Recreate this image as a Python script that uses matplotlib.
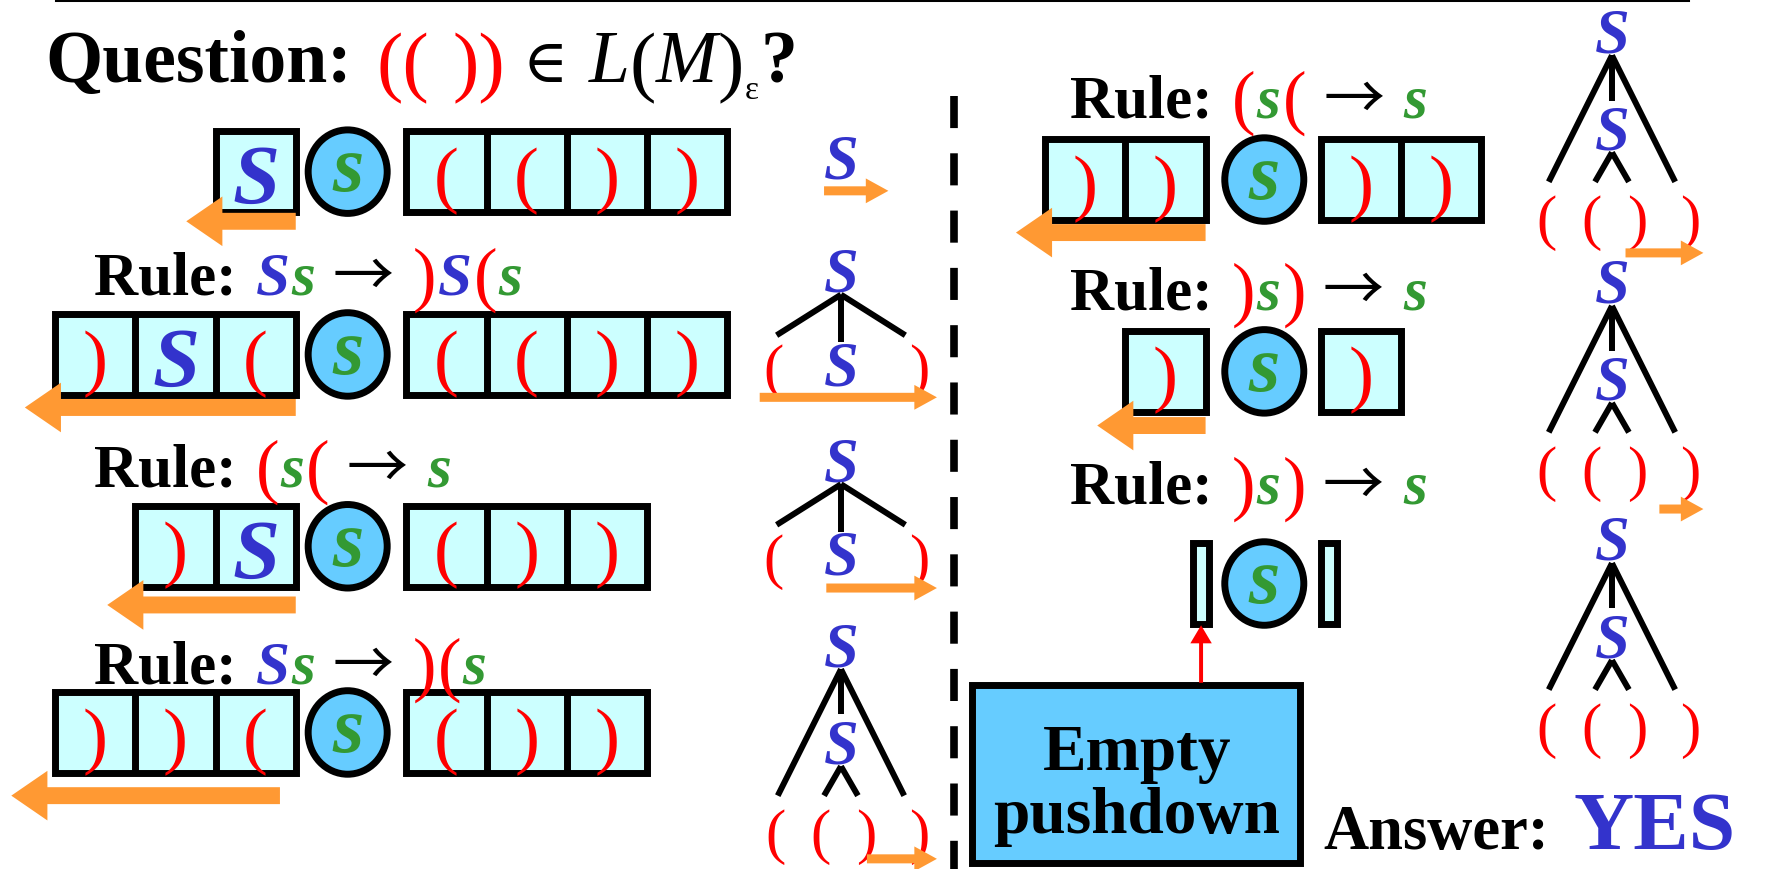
import matplotlib
matplotlib.use('Agg')
import matplotlib.pyplot as plt
import matplotlib.patches as mpatches

# drawing units = reference as shown (1568 x 771), figure saved at 1770 x 870
W, H = 1568, 771
fig = plt.figure(figsize=(17.7, 8.7), dpi=100)
ax = fig.add_axes([0, 0, 1, 1])
ax.set_xlim(0, W)
ax.set_ylim(H, 0)
ax.axis('off')

BLUE = '#3333CC'
GREEN = '#339933'
RED = '#FF0000'
ORANGE = '#FF9933'
CELL = '#CCFFFF'
STATE = '#66CCFF'
SERIF = ['Liberation Serif', 'DejaVu Serif']
ARROWFONT = ['Noto Sans CJK JP', 'DejaVu Sans']

# configurations of the pushdown automaton
pushdowns_left = [['S'], [')', 'S', '('], [')', 'S'], [')', ')', '(']]
inputs_left = [['(', '(', ')', ')'], ['(', '(', ')', ')'], ['(', ')', ')'], ['(', ')', ')']]
rules_left = [None, 'Ss→)S(s', '(s(→s', 'Ss→)(s']
trees_left = ['leaf', 'flat', 'flat', 'deep']

pushdowns_right = [[')', ')'], [')'], []]
inputs_right = [[')', ')'], [')'], []]
rules_right = ['(s(→s', ')s)→s', ')s)→s']
trees_right = ['deep', 'deep', 'deep']

question = '(( ))'
answer = 'YES'

renderer = fig.canvas.get_renderer()
px2u = W / fig.bbox.width
PT = 0.8127  # points per drawing unit


def sym_kw(ch, size):
    if ch == 'S':
        return dict(color=BLUE, fontweight='bold', fontstyle='italic', fontsize=size)
    if ch == 's':
        return dict(color=GREEN, fontweight='bold', fontstyle='italic', fontsize=size)
    if ch in '()':
        return dict(color=RED, fontweight='normal', fontsize=size)
    return dict(color='black', fontweight='normal', fontsize=size)


def write(x, y, pieces):
    # pieces: (text, kwargs, gap after[, baseline shift])
    for p in pieces:
        s, kw, gap = p[:3]
        dy = p[3] if len(p) > 3 else 0
        kw = dict(kw)
        fam = kw.pop('family', SERIF)
        t = ax.text(x, y + dy, s, va='baseline', ha='left', family=fam, **kw)
        x += t.get_window_extent(renderer).width * px2u + gap
    return x


def glyph(x, yc, ch, size):
    em = size / PT
    off = {'S': 0.33, 's': 0.23, '(': 0.26, ')': 0.26}[ch]
    ax.text(x, yc + off * em, ch, ha='center', va='baseline', family=SERIF,
            **sym_kw(ch, size))


def rule(x, y, text, size=44):
    pieces = [('Rule:', dict(fontweight='bold', fontsize=size), 17)]
    for ch in text:
        if ch == '→':
            pieces[-1] = (*pieces[-1][:2], 15, *pieces[-1][3:])
            pieces.append((ch, dict(fontsize=size, family=ARROWFONT), 17, 1))
        elif ch in 'Ss':
            pieces.append((ch, sym_kw(ch, size), 2))
        else:
            pieces.append((ch, sym_kw(ch, size + 7), 1, 3))
    write(x, y, pieces)


CW, CH = 71, 72
LW = 5


def cells(x0, yc, items):
    n = len(items)
    ax.add_patch(mpatches.Rectangle((x0, yc - CH / 2), CW * n, CH, fc=CELL,
                                    ec='black', lw=LW, zorder=2))
    for i in range(1, n):
        ax.plot([x0 + i * CW] * 2, [yc - CH / 2, yc + CH / 2], color='black',
                lw=LW, zorder=2, solid_capstyle='butt')
    for i, ch in enumerate(items):
        glyph(x0 + (i + 0.5) * CW, yc + (3 if ch == 'S' else 6), ch,
              61 if ch == 'S' else 54)


def state(x, yc):
    ax.add_patch(mpatches.Ellipse((x, yc), 70, 74, fc=STATE, ec='black',
                                  lw=LW, zorder=2))
    glyph(x, yc, 's', 58)


def arrow(x0, x1, y, w, hw, hl, color=ORANGE):
    ax.add_patch(mpatches.FancyArrow(x0, y, x1 - x0, 0, width=w, head_width=hw,
                                     head_length=hl, length_includes_head=True,
                                     fc=color, ec='none', zorder=4))


def tree_line(p, q):
    ax.plot([p[0], q[0]], [p[1], q[1]], color='black', lw=4.3,
            solid_capstyle='butt', zorder=3)


def tree(kind, x, y):
    glyph(x, y, 'S', 45)
    if kind == 'leaf':
        return
    a = y + 22
    if kind == 'flat':
        tree_line((x, a), (x - 57, y + 58))
        tree_line((x, a), (x + 57, y + 58))
        tree_line((x, a), (x, y + 64))
        glyph(x, y + 83, 'S', 45)
        glyph(x - 60, y + 89, '(', 44)
        glyph(x + 69, y + 89, ')', 44)
        return
    tree_line((x, a), (x - 56, y + 134))
    tree_line((x, a), (x + 56, y + 134))
    tree_line((x, a), (x, y + 62))
    glyph(x, y + 86, 'S', 45)
    tree_line((x, y + 108), (x - 15, y + 134))
    tree_line((x, y + 108), (x + 15, y + 134))
    for dx, ch in zip([-58, -18, 22, 69], '(())'):
        glyph(x + dx, y + 169, ch, 44)


# top rule line
ax.plot([50, 1495], [1.3, 1.3], color='black', lw=2.2)

# title
x = write(40, 73, [('Question:', dict(fontweight='bold', fontsize=53), 22),
                   (question[:2], dict(color=RED, fontsize=57), 20, 4),
                   (question[3:], dict(color=RED, fontsize=57), 16, 4),
                   ('∈', dict(fontsize=44), 18),
                   ('L', dict(fontstyle='italic', fontsize=53), 0),
                   ('(', dict(fontsize=57), 0, 4),
                   ('M', dict(fontstyle='italic', fontsize=53), 0),
                   (')', dict(fontsize=57), 1, 4)])
x = write(x, 88, [('ε', dict(fontsize=24), 2)])
write(x, 73, [('?', dict(fontsize=53, fontweight='bold'), 0)])

# left column
left_y = [153, 315, 485, 650]
left_rule_y = [None, 261, 431, 606]
left_arrow = [(262, 165, 197), (262, 22, 362), (262, 95, 537), (248, 10, 706)]
left_tree_y = [140, 240, 408, 572]
left_read = [(730, 787, 170), (673, 830, 353), (732, 830, 522), (768, 830, 762)]
for i in range(4):
    pd = pushdowns_left[i]
    cells(262 - CW * len(pd), left_y[i], pd)
    state(308, left_y[i])
    cells(360, left_y[i], inputs_left[i])
    if rules_left[i]:
        rule(83, left_rule_y[i], rules_left[i])
    x0, x1, y = left_arrow[i]
    arrow(x0, x1, y, 15, 44, 32)
    tree(trees_left[i], 745, left_tree_y[i])
    x0, x1, y = left_read[i]
    arrow(x0, x1, y, 8, 22, 20)

# divider
ax.plot([845, 845], [86, H], color='black', lw=5.5, dashes=(4.2, 3.3))

# right column
right_y = [160, 330, 518]
right_rule_y = [104, 274, 446]
right_arrow = [(1068, 900, 207), (1068, 972, 378)]
right_tree_y = [28, 250, 478]
right_read = [(1440, 1509, 225), (1470, 1509, 452)]
for i in range(3):
    pd = pushdowns_right[i]
    if pd:
        cells(1068 - CW * len(pd), right_y[i], pd)
        cells(1170, right_y[i], inputs_right[i])
        x0, x1, y = right_arrow[i]
        arrow(x0, x1, y, 15, 44, 32)
        x0, x1, y = right_read[i]
        arrow(x0, x1, y, 8, 22, 20)
    else:
        for x in (1057, 1170):
            ax.add_patch(mpatches.Rectangle((x, right_y[i] - 36), 14, 72, fc=CELL,
                                            ec='black', lw=LW, zorder=2))
    state(1120, right_y[i])
    rule(948, right_rule_y[i], rules_right[i])
    tree(trees_right[i], 1428, right_tree_y[i])

# empty pushdown
ax.add_patch(mpatches.FancyArrow(1064, 606, 0, -51, width=3.5, head_width=19,
                                 head_length=16, length_includes_head=True,
                                 fc=RED, ec='none', zorder=4))
ax.add_patch(mpatches.Rectangle((861, 608), 291, 158, fc=STATE, ec='black',
                                lw=LW, zorder=2))
ax.text(1007, 682, 'Empty', family=SERIF, fontsize=47, fontweight='bold',
        ha='center', va='baseline', zorder=5)
ax.text(1007, 738, 'pushdown', family=SERIF, fontsize=47, fontweight='bold',
        ha='center', va='baseline', zorder=5)

# answer
write(1172, 752, [('Answer:', dict(fontweight='bold', fontsize=45), 22),
                  (answer, dict(color=BLUE, fontweight='bold', fontsize=60), 0)])

fig.savefig('out.png', dpi=100)
